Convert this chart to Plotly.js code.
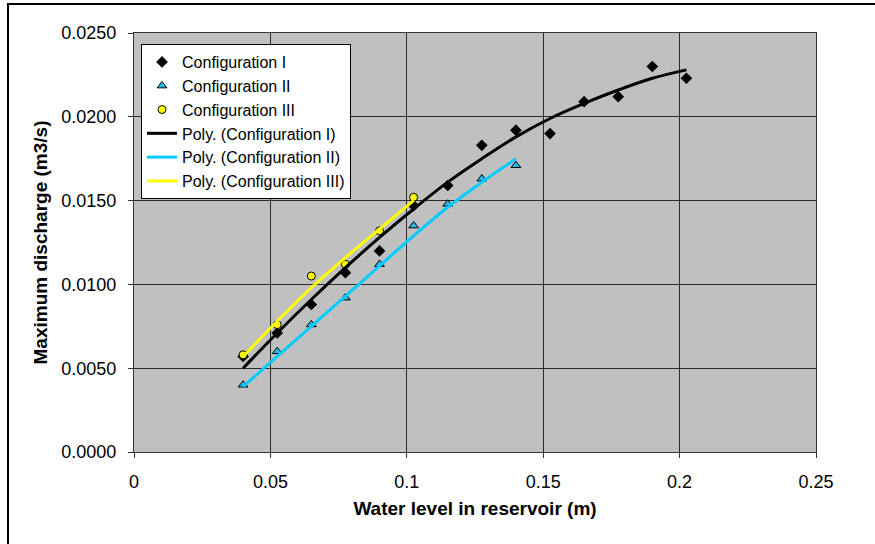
<!DOCTYPE html>
<html>
<head>
<meta charset="utf-8">
<script src="https://cdn.plot.ly/plotly-3.0.1.min.js"></script>
<style>
html, body { margin: 0; padding: 0; background: #fff; overflow: hidden; }
#chart { width: 875px; height: 544px; }
#frame { position: absolute; left: 7px; top: 3px; width: 1000px; height: 1000px;
  border-left: 2px solid #000; border-top: 2px solid #000; pointer-events: none; }
</style>
</head>
<body>
<div id="chart"></div>
<div id="frame"></div>
<script>
// Water level in reservoir (m)
const levelI = [0.04, 0.0525, 0.065, 0.0775, 0.09, 0.1025, 0.115, 0.1275, 0.14, 0.1525, 0.165, 0.1775, 0.19, 0.2025];
const levelII = [0.04, 0.0525, 0.065, 0.0775, 0.09, 0.1025, 0.115, 0.1275, 0.14];
const levelIII = [0.04, 0.0525, 0.065, 0.0775, 0.09, 0.1025];

// Maximum discharge (m3/s) - measured
const dischargeI = [0.0057, 0.0071, 0.0088, 0.0107, 0.0120, 0.0147, 0.0159, 0.0183, 0.0192, 0.0190, 0.0209, 0.0212, 0.0230, 0.0223];
const dischargeII = [0.0040, 0.0060, 0.0076, 0.0092, 0.0112, 0.0135, 0.0148, 0.0163, 0.0171];
const dischargeIII = [0.0058, 0.0076, 0.0105, 0.0112, 0.0132, 0.0152];

// Polynomial trendlines
const polyI = [0.0050, 0.0071, 0.0091, 0.0110, 0.0128, 0.0145, 0.0161, 0.0175, 0.0188, 0.0199, 0.0208, 0.0216, 0.0223, 0.0228];
const polyII = [0.0039, 0.0057, 0.0075, 0.0093, 0.0111, 0.0129, 0.0146, 0.0161, 0.0175];
const polyIII = [0.0057, 0.0078, 0.0098, 0.0116, 0.0133, 0.0150];

const seriesNames = ['Configuration I', 'Configuration II', 'Configuration III',
  'Poly. (Configuration I)', 'Poly. (Configuration II)', 'Poly. (Configuration III)'];
const xTicks = [0, 0.05, 0.1, 0.15, 0.2, 0.25];
const yTicks = [0, 0.005, 0.01, 0.015, 0.02, 0.025];

const font = 'Arial, "Liberation Sans", sans-serif';

const traces = [
  { x: levelI, y: dischargeI, name: seriesNames[0], type: 'scatter', mode: 'markers',
    marker: { symbol: 'diamond', size: 9, color: '#000000', line: { width: 0 } } },
  { x: levelII, y: dischargeII, name: seriesNames[1], type: 'scatter', mode: 'markers',
    marker: { symbol: 'triangle-up', size: 8.5, color: '#22B8EA', line: { width: 1, color: '#000000' } } },
  { x: levelIII, y: dischargeIII, name: seriesNames[2], type: 'scatter', mode: 'markers',
    marker: { symbol: 'circle', size: 8, color: '#FFFF00', line: { width: 1, color: '#000000' } } },
  { x: levelI, y: polyI, name: seriesNames[3], type: 'scatter', mode: 'lines',
    line: { color: '#000000', width: 3, shape: 'spline' } },
  { x: levelII, y: polyII, name: seriesNames[4], type: 'scatter', mode: 'lines',
    line: { color: '#00CCFF', width: 3, shape: 'spline' } },
  { x: levelIII, y: polyIII, name: seriesNames[5], type: 'scatter', mode: 'lines',
    line: { color: '#FFFF00', width: 3, shape: 'spline' } }
];

const layout = {
  width: 875, height: 544,
  margin: { l: 134, r: 59, t: 33, b: 92 },
  paper_bgcolor: '#FFFFFF',
  plot_bgcolor: '#C0C0C0',
  font: { family: font, size: 18, color: '#000000' },
  showlegend: true,
  legend: {
    x: 0.0103, y: 0.9737, xanchor: 'left', yanchor: 'top',
    bgcolor: '#FFFFFF', bordercolor: '#000000', borderwidth: 1,
    font: { family: font, size: 16, color: '#000000' },
    itemwidth: 30
  },
  xaxis: {
    range: [0, 0.25], tickvals: xTicks, ticktext: xTicks.map(String),
    showgrid: true, gridcolor: '#2a2a2a', gridwidth: 1,
    zeroline: false, showline: true, mirror: true, linecolor: '#333333', linewidth: 1,
    ticks: 'outside', ticklen: 5, tickcolor: '#333333', ticklabelstandoff: 8,
    tickfont: { family: font, size: 18, color: '#000000' },
    title: { text: 'Water level in reservoir (m)', standoff: 11,
      font: { family: font, size: 19, color: '#000000', weight: 'bold' } },
    automargin: false
  },
  yaxis: {
    range: [0, 0.025], tickvals: yTicks, tickformat: '.4f',
    showgrid: true, gridcolor: '#2a2a2a', gridwidth: 1,
    zeroline: false, showline: true, mirror: true, linecolor: '#333333', linewidth: 1,
    ticks: 'outside', ticklen: 5, tickcolor: '#333333', ticklabelstandoff: 8,
    tickfont: { family: font, size: 18, color: '#000000' },
    title: { text: 'Maximum discharge (m3/s)', standoff: 8,
      font: { family: font, size: 19, color: '#000000', weight: 'bold' } },
    automargin: false
  }
};

Plotly.newPlot('chart', traces, layout, { displayModeBar: false, staticPlot: true });
</script>
</body>
</html>
